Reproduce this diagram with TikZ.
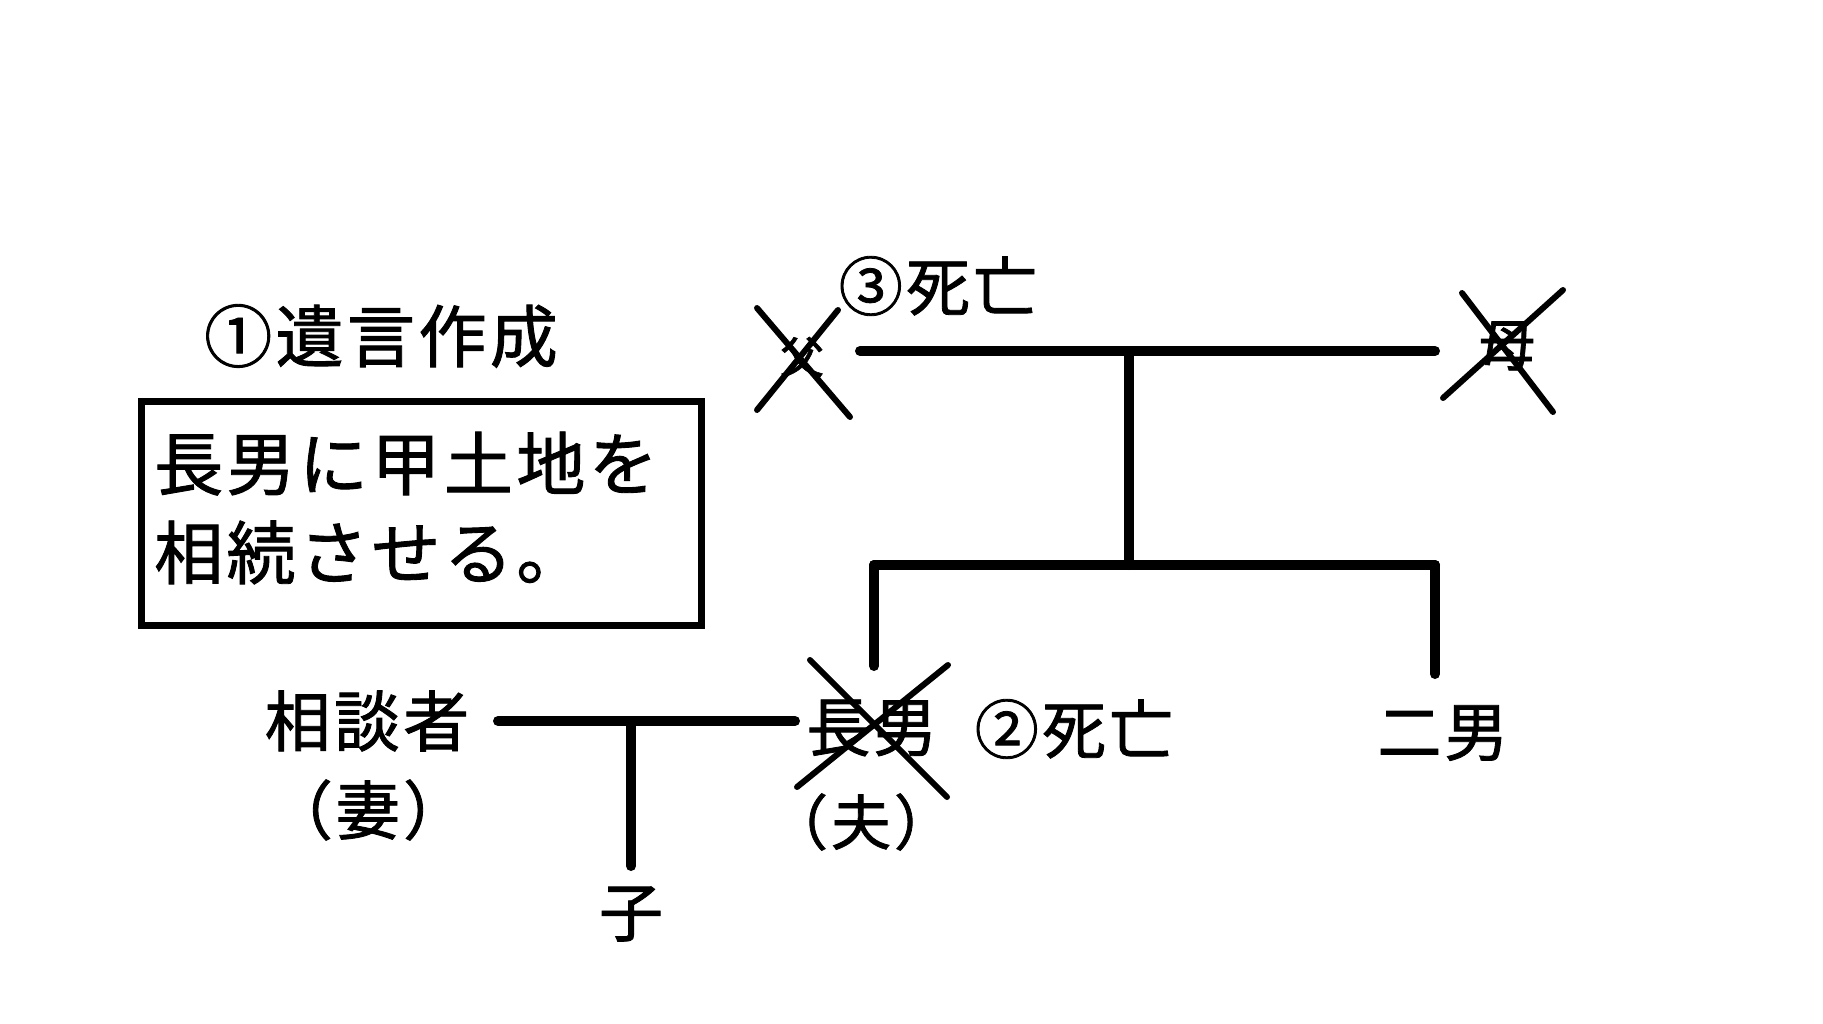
\documentclass[tikz,border=0pt]{standalone}
\usepackage{fontspec}
\newfontfamily\jp[FakeBold=1.3, LetterSpace=5]{Noto Sans CJK JP}
\newcommand{\fs}[1]{\fontsize{#1}{#1}\selectfont}
\begin{document}
\begin{tikzpicture}[x=1pt,y=-1pt,
  lbl/.style={inner sep=0pt, font=\jp\fs{64}},
  famline/.style={line width=10pt, line cap=round},
  crossline/.style={line width=6pt, line cap=round}]
\useasboundingbox[fill=white] (0,0) rectangle (1823,1024);
% title and will box
\node[lbl, font=\jp\fs{68}] (will) at (381,336) {①遺言作成};
\node[draw, line width=7pt, minimum width=560pt, minimum height=224pt, inner sep=0pt] (box) at (421.5,513.5) {};
\node[lbl, font=\jp\fontsize{69}{89}\selectfont, align=left, anchor=west] (boxtext) at (154,508) {長男に甲土地を\\相続させる。};
% parents
\node[lbl, font=\jp\fs{44}] (father) at (802,357) {父};
\draw[crossline] (757,308) -- (850,417);
\draw[crossline] (838,310) -- (757,410);
\node[lbl, font=\jp\fs{56}] (mother) at (1507,346) {母};
\draw[crossline] (1462,293) -- (1553,412);
\draw[crossline] (1563,290) -- (1443,398);
\node[lbl] (death3) at (938,286) {③死亡};
\coordinate (pL) at (860,351);
\coordinate (pR) at (1435,351);
\coordinate (pM) at (1129,351);
\coordinate (sM) at (1129,565);
\coordinate (sL) at (874,565);
\coordinate (sR) at (1435,565);
\draw[famline] (pL) -- (pR);
\draw[famline] (pM) -- (sM);
\draw[famline] (sL) -- (sR);
% children
\node[lbl] (eldest) at (872,728) {長男};
\node[lbl, font=\jp\fs{60}] (husband) at (861,822) {（夫）};
\draw[crossline] (810,660) -- (947,797);
\draw[crossline] (948,665) -- (797,787);
\node[lbl] (death2) at (1074,729) {②死亡};
\node[lbl] (second) at (1443,733) {二男};
\draw[famline] (sL) -- (874,666);
\draw[famline] (sR) -- (1435,674);
% spouse and child
\node[lbl, font=\jp\fs{66}] (client) at (367,721) {相談者};
\node[lbl] (wife) at (368,810) {（妻）};
\coordinate (mL) at (498,721);
\coordinate (mR) at (795,721);
\coordinate (mM) at (631,721);
\draw[famline] (mL) -- (mR);
\node[lbl] (child) at (631,914) {子};
\draw[famline] (mM) -- (631,866);
\end{tikzpicture}
\end{document}
